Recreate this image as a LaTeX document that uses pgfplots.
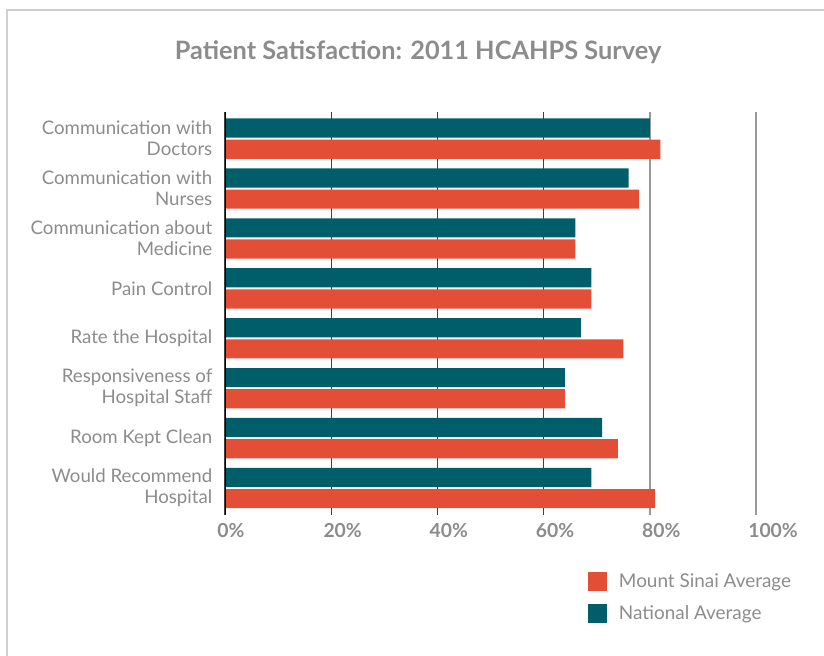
\documentclass[border=0pt]{standalone}
\usepackage{fontspec}
\setmainfont{Lato}
\usepackage{pgfplots}
\pgfplotsset{compat=1.18}
\definecolor{natTeal}{HTML}{005E6A}
\definecolor{msOrange}{HTML}{E34F36}
\definecolor{txtGray}{HTML}{8C8C8C}
\definecolor{gridDark}{HTML}{404040}
\definecolor{gridLight}{HTML}{999999}
\definecolor{frameGray}{HTML}{D0D0D0}

\begin{document}
\begin{tikzpicture}[x=0.75pt,y=0.75pt]
\path[use as bounding box] (0,0) rectangle (824,656);
\draw[frameGray, line width=1pt] (7,0) -- (7,646) -- (824,646);
\node[font={\fontsize{19}{21}\selectfont\bfseries}, text=txtGray] at (418,604) {Patient Satisfaction: 2011 HCAHPS Survey};
\begin{axis}[
    at={(168.75pt,106pt)}, anchor=south west,
    scale only axis, width=398.25pt, height=302pt,
    xbar, bar width=0.384,
    xmin=0, xmax=100, ymin=-0.533, ymax=7.533,
    axis line style={draw=none},
    major tick length=0pt,
    xmajorgrids, grid style={draw=gridDark, line width=1pt},
    xtick={0,20,40,60}, xticklabels={0\%,20\%,40\%,60\%},
    extra x ticks={80,100}, extra x tick labels={80\%,100\%},
    extra x tick style={grid style={draw=gridLight, line width=1.2pt}},
    xticklabel style={font={\fontsize{14.5}{16}\selectfont\bfseries}, text=txtGray,
        anchor=north west, xshift=-9.3pt, yshift=-3pt},
    ytick={0,...,7},
    yticklabels={Would Recommend\\Hospital, Room Kept Clean, Responsiveness of\\Hospital Staff, Rate the Hospital, Pain Control, Communication about\\Medicine, Communication with\\Nurses, Communication with\\Doctors},
    yticklabel style={font={\fontsize{14}{15.75}\selectfont}, text=txtGray, align=right, xshift=-6pt},
    reverse legend,
    legend style={at={(0.683,-0.14)}, anchor=north west, draw=none, fill=none,
        font={\fontsize{14.2}{16}\selectfont}, text=txtGray, row sep=8pt,
        inner sep=0pt, /tikz/every odd column/.append style={column sep=7pt}},
    legend cell align=left,
    legend image code/.code={\fill[#1] (0pt,-7.1pt) rectangle (14.25pt,7.1pt);},
]
\addplot[fill=natTeal, draw=none, bar shift=0.212] coordinates {
    (80,7) (76,6) (66,5) (69,4) (67,3) (64,2) (71,1) (69,0)
};
\addlegendentry{National Average}
\addplot[fill=msOrange, draw=none, bar shift=-0.212] coordinates {
    (82,7) (78,6) (66,5) (69,4) (75,3) (64,2) (74,1) (81,0)
};
\addlegendentry{Mount Sinai Average}
\draw[black, line width=1.5pt] (rel axis cs:0,0) -- (rel axis cs:0,1);
\end{axis}
\end{tikzpicture}
\end{document}
